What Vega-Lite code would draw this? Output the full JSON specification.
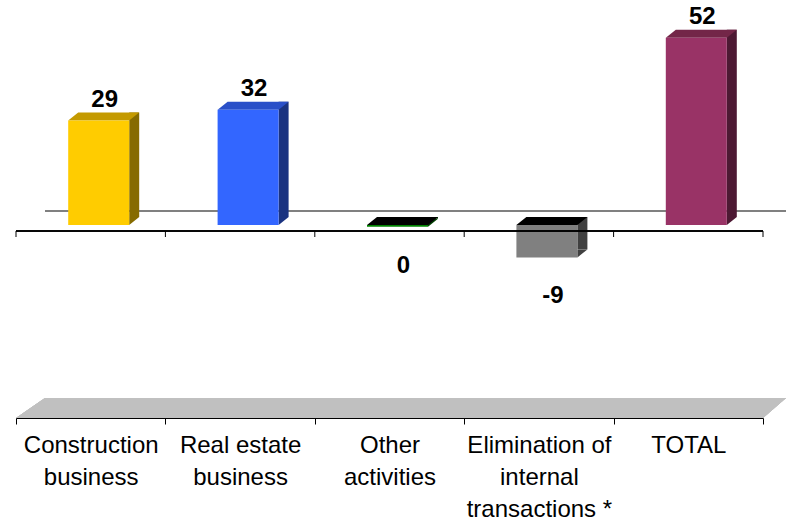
{
  "$schema": "https://vega.github.io/schema/vega-lite/v6.json",
  "autosize": {"type": "none"},
  "width": 747,
  "height": 411,
  "padding": {"left": 16, "right": 23, "top": 1, "bottom": 111},
  "background": "white",
  "config": {"view": {"stroke": null}, "font": "Liberation Sans"},
  "data": {
    "values": [
      {"category": "Construction\nbusiness", "value": 29, "label": "29"},
      {"category": "Real estate\nbusiness", "value": 32, "label": "32"},
      {"category": "Other\nactivities", "value": -0.45, "label": "0"},
      {"category": "Elimination of\ninternal\ntransactions *", "value": -9, "label": "-9"},
      {"category": "TOTAL", "value": 52, "label": "52"}
    ]
  },
  "encoding": {
    "x": {
      "field": "category",
      "type": "nominal",
      "sort": null,
      "scale": {"domain": ["Construction\nbusiness", "Real estate\nbusiness", "Other\nactivities", "Elimination of\ninternal\ntransactions *", "TOTAL"], "paddingInner": 0, "paddingOuter": 0},
      "axis": {
        "title": null,
        "orient": "bottom",
        "offset": 6,
        "domainColor": "#000000",
        "domainWidth": 1,
        "tickColor": "#000000",
        "tickSize": 6,
        "tickBand": "extent",
        "labelAngle": 0,
        "labelFont": "Liberation Sans",
        "labelFontSize": 24,
        "labelColor": "#000000",
        "labelPadding": 9,
        "labelLineHeight": 32,
        "labelBaseline": "top",
        "labelExpr": "isString(datum.value) ? split(datum.value, '\\n') : ''",
        "labelLimit": 0,
        "grid": false
      }
    }
  },
  "layer": [
    {
      "mark": {"type": "rule", "color": "#808080", "strokeWidth": 1.5, "yOffset": -14, "xOffset": 29, "x2Offset": 23},
      "encoding": {
        "x": {"value": 0},
        "x2": {"value": 747},
        "y": {"datum": 0, "type": "quantitative", "scale": {"domain": [-51.94, 62.22], "nice": false, "zero": false}, "axis": null}
      }
    },
    {
      "mark": {"type": "point", "filled": true, "opacity": 1, "strokeWidth": 0, "size": 400, "color": "#C0C0C0",
               "shape": "M-37.35,0.6 L37.35,0.6 L39.65,-1.4 L-34.45,-1.4 Z"},
      "encoding": {
        "x": {"datum": "Other\nactivities", "type": "nominal"},
        "y": {"datum": -51.94, "type": "quantitative", "scale": {"domain": [-51.94, 62.22], "nice": false, "zero": false}}
      }
    },
    {
      "mark": {"type": "bar", "width": 10, "xOffset": 43.5, "yOffset": -8, "y2Offset": -8},
      "encoding": {
        "y": {"field": "value", "type": "quantitative", "scale": {"domain": [-51.94, 62.22], "nice": false, "zero": false}},
        "color": {"field": "category", "type": "nominal", "legend": null,
          "scale": {"domain": ["Construction\nbusiness", "Real estate\nbusiness", "Other\nactivities", "Elimination of\ninternal\ntransactions *", "TOTAL"],
                    "range": ["#866B00", "#1A3380", "#004000", "#404040", "#4D1933"]}}
      }
    },
    {
      "transform": [{"filter": "datum.value >= 0"}],
      "mark": {"type": "point", "filled": true, "opacity": 1, "strokeWidth": 0, "size": 400,
               "shape": "M3.85,-0.8 L3.85,0 L4.85,-0.8 Z"},
      "encoding": {
        "y": {"datum": 0, "type": "quantitative", "scale": {"domain": [-51.94, 62.22], "nice": false, "zero": false}},
        "color": {"field": "category", "type": "nominal", "legend": null,
          "scale": {"domain": ["Construction\nbusiness", "Real estate\nbusiness", "Other\nactivities", "Elimination of\ninternal\ntransactions *", "TOTAL"],
                    "range": ["#866B00", "#1A3380", "#004000", "#404040", "#4D1933"]}}
      }
    },
    {
      "transform": [{"filter": "datum.value < 0"}],
      "mark": {"type": "point", "filled": true, "opacity": 1, "strokeWidth": 0, "size": 400,
               "shape": "M3.85,-0.8 L3.85,0 L4.85,-0.8 Z"},
      "encoding": {
        "y": {"field": "value", "type": "quantitative", "scale": {"domain": [-51.94, 62.22], "nice": false, "zero": false}},
        "color": {"field": "category", "type": "nominal", "legend": null,
          "scale": {"domain": ["Construction\nbusiness", "Real estate\nbusiness", "Other\nactivities", "Elimination of\ninternal\ntransactions *", "TOTAL"],
                    "range": ["#866B00", "#1A3380", "#004000", "#404040", "#4D1933"]}}
      }
    },
    {
      "transform": [{"filter": "datum.value >= 0"}],
      "mark": {"type": "point", "filled": true, "opacity": 1, "strokeWidth": 0, "size": 400,
               "shape": "M-2.25,0 L3.85,0 L4.85,-0.8 L-1.25,-0.8 Z"},
      "encoding": {
        "y": {"field": "value", "type": "quantitative", "scale": {"domain": [-51.94, 62.22], "nice": false, "zero": false}},
        "color": {"field": "category", "type": "nominal", "legend": null,
          "scale": {"domain": ["Construction\nbusiness", "Real estate\nbusiness", "TOTAL"],
                    "range": ["#C49A00", "#2A50C8", "#732648"]}}
      }
    },
    {
      "transform": [{"filter": "datum.value < 0"}],
      "mark": {"type": "point", "filled": true, "opacity": 1, "strokeWidth": 0, "size": 400, "color": "#000000",
               "shape": "M-2.25,0 L3.85,0 L4.85,-0.8 L-1.25,-0.8 Z"},
      "encoding": {
        "y": {"datum": 0, "type": "quantitative", "scale": {"domain": [-51.94, 62.22], "nice": false, "zero": false}}
      }
    },
    {
      "mark": {"type": "bar", "width": 61, "xOffset": 8},
      "encoding": {
        "y": {"field": "value", "type": "quantitative", "scale": {"domain": [-51.94, 62.22], "nice": false, "zero": false}},
        "color": {"field": "category", "type": "nominal", "legend": null,
          "scale": {"domain": ["Construction\nbusiness", "Real estate\nbusiness", "Other\nactivities", "Elimination of\ninternal\ntransactions *", "TOTAL"],
                    "range": ["#FFCC00", "#3366FF", "#008000", "#808080", "#993366"]}}
      }
    },
    {
      "mark": {"type": "rule", "color": "#000000", "strokeWidth": 1, "yOffset": 6},
      "encoding": {
        "x": {"value": 0},
        "x2": {"value": 747},
        "y": {"datum": 0, "type": "quantitative", "scale": {"domain": [-51.94, 62.22], "nice": false, "zero": false}}
      }
    },
    {
      "mark": {"type": "rule", "color": "#000000", "strokeWidth": 1, "yOffset": 6, "y2Offset": 12},
      "encoding": {
        "x": {"field": "category", "type": "nominal", "bandPosition": 0},
        "y": {"datum": 0, "type": "quantitative", "scale": {"domain": [-51.94, 62.22], "nice": false, "zero": false}},
        "y2": {"datum": 0}
      }
    },
    {
      "transform": [{"filter": "datum.label == '52'"}],
      "mark": {"type": "rule", "color": "#000000", "strokeWidth": 1, "yOffset": 6, "y2Offset": 12},
      "encoding": {
        "x": {"field": "category", "type": "nominal", "bandPosition": 1},
        "y": {"datum": 0, "type": "quantitative", "scale": {"domain": [-51.94, 62.22], "nice": false, "zero": false}},
        "y2": {"datum": 0}
      }
    },
    {
      "transform": [{"filter": "datum.value >= 0"}],
      "mark": {"type": "text", "font": "Liberation Sans", "fontSize": 24, "fontWeight": "bold", "color": "#000000",
               "baseline": "alphabetic", "align": "center", "dx": 14, "dy": -14},
      "encoding": {
        "y": {"field": "value", "type": "quantitative", "scale": {"domain": [-51.94, 62.22], "nice": false, "zero": false}},
        "text": {"field": "label"}
      }
    },
    {
      "transform": [{"filter": "datum.value < 0"}],
      "mark": {"type": "text", "font": "Liberation Sans", "fontSize": 24, "fontWeight": "bold", "color": "#000000",
               "baseline": "top", "align": "center", "dx": 14, "dy": 27},
      "encoding": {
        "y": {"field": "value", "type": "quantitative", "scale": {"domain": [-51.94, 62.22], "nice": false, "zero": false}},
        "text": {"field": "label"}
      }
    }
  ],
  "resolve": {"scale": {"color": "independent"}}
}
